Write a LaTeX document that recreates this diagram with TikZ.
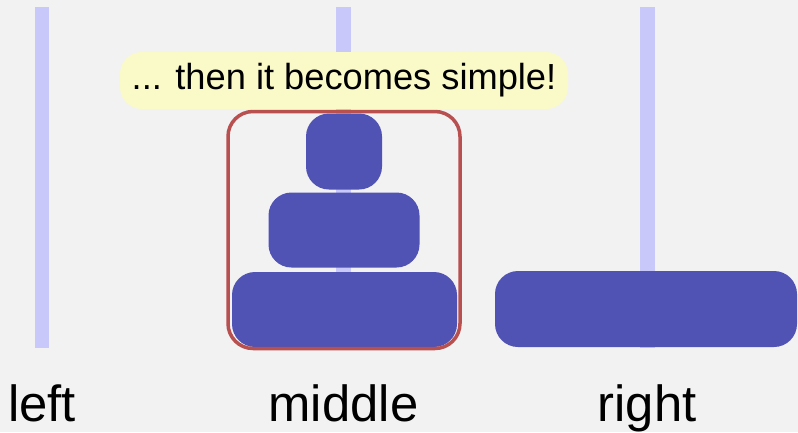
\documentclass[tikz,border=0pt]{standalone}
\usepackage{fontspec}
\setmainfont{Liberation Sans}
\definecolor{bgc}{RGB}{242,242,242}
\definecolor{pegc}{RGB}{200,200,250}
\definecolor{diskc}{RGB}{80,82,180}
\definecolor{framec}{RGB}{185,80,80}
\definecolor{notec}{RGB}{250,250,200}
\tikzset{
  peg/.style={fill=pegc, draw=none},
  disk/.style={fill=diskc, draw=none, rounded corners=23bp, inner sep=0pt},
  frame/.style={draw=framec, line width=3.5bp, rounded corners=25bp, fill=none, inner sep=0pt},
  note/.style={fill=notec, draw=none, rounded corners=22bp, inner sep=0pt, minimum width=448bp, minimum height=57bp, font=\fontsize{36.4}{40}\selectfont},
  lbl/.style={anchor=base, inner sep=0pt, font=\fontsize{51}{60}\selectfont}
}
\begin{document}
\begin{tikzpicture}[x=1bp,y=-1bp]
\useasboundingbox (0,0) rectangle (798,432);
\fill[bgc] (0,0) rectangle (798,432);
% pegs
\fill[peg] (35,7) rectangle (49,348);
\fill[peg] (336,7) rectangle (351,348);
\fill[peg] (640,7) rectangle (655,348);
% disks
\node[disk, minimum width=225bp, minimum height=75bp] (d3) at (344.5,309.5) {};
\node[disk, minimum width=151bp, minimum height=75bp] (d2) at (344,230) {};
\node[disk, minimum width=76bp, minimum height=76bp] (d1) at (344,151.5) {};
\node[disk, minimum width=302bp, minimum height=76bp] (d4) at (646,309) {};
% frame
\node[frame, minimum width=232bp, minimum height=237bp] (fr) at (344,230) {};
% note
\node[note] (nt) at (344,80.5) {... then it becomes simple!};
% labels
\node[lbl] (l1) at (42,421) {left};
\node[lbl] (l2) at (343.5,421) {middle};
\node[lbl] (l3) at (647,421) {right};
\end{tikzpicture}
\end{document}
